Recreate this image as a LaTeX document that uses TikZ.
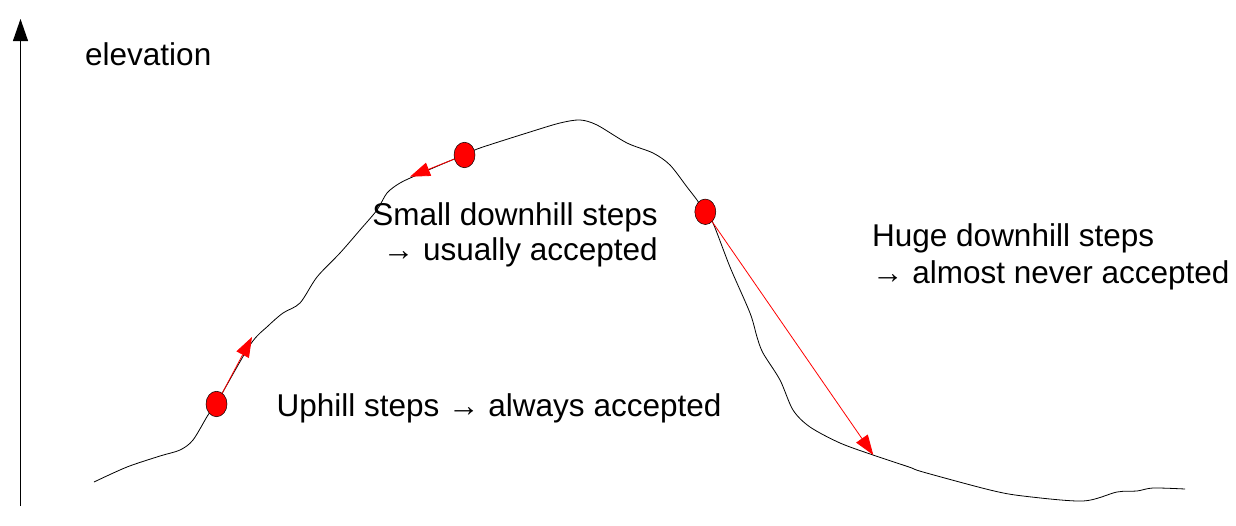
\documentclass[tikz,border=0pt]{standalone}
\usepackage{fontspec}
\setmainfont{Liberation Sans}
\usetikzlibrary{arrows.meta,shapes.geometric}
\begin{document}
\begin{tikzpicture}[x=1pt,y=-1pt,
  lbl/.style={inner sep=0pt,font=\fontsize{31.5}{35.5}\selectfont},
  ball/.style={ellipse,draw=black,line width=0.5pt,fill=red,minimum width=21pt,minimum height=25.5pt,inner sep=0pt},
  stepline/.style={draw=red,line width=0.8pt,-{Triangle[length=20pt,width=14pt]}},
  terrain/.style={draw=black,line width=0.8pt},
  axisline/.style={draw=black,line width=1pt,-{Triangle[length=22pt,width=15pt]}}]
\useasboundingbox (0,0) rectangle (1236,525);
% axis
\coordinate (axb) at (20.5,506);
\coordinate (axt) at (20.5,19);
\draw[axisline] (axb) -- (axt);
\node[lbl,anchor=base west] (elev) at (85,65.7) {elevation};
% terrain
\draw[terrain] plot[smooth,tension=0.5] coordinates {
 (94,482) (127,467) (160,456) (180,450) (193,440) (208,415) (216,404)
 (250,345) (268,326) (283,313) (300,303) (317,277) (340,253) (360,230)
 (377,210) (387,193) (400,183) (417,175) (440,165) (464,155) (480,148)
 (530,132) (560,123) (580,120) (597,125) (627,143) (653,153) (670,165)
 (687,187) (697,200) (705,212) (713,223) (730,267) (750,313) (757,337)
 (763,353) (780,380) (793,410) (810,427) (840,443) (873,455) (909,467)
 (923,472) (990,490) (1023,496) (1083,501) (1117,492) (1137,491)
 (1153,488) (1185,489)};
% balls
\node[ball] (b1) at (216.5,404) {};
\node[ball] (b2) at (464.5,155) {};
\node[ball] (b3) at (705.3,211.8) {};
% step tips
\coordinate (t1) at (252,337);
\coordinate (t2) at (410,176.7);
\coordinate (t3) at (873.3,455);
\draw[stepline] (b1) -- (t1);
\draw[stepline] (b2) -- (t2);
\draw[stepline] (b3) -- (t3);
% labels
\node[lbl,anchor=base west] (up) at (276.5,416.7) {Uphill steps → always accepted};
\node[lbl,font=\fontsize{31.5}{35}\selectfont,anchor=base east,align=right] (small) at (658,260) {Small downhill steps\\→ usually accepted};
\node[lbl,font=\fontsize{31.5}{36.5}\selectfont,anchor=base west,align=left] (huge) at (872,283.3) {Huge downhill steps\\→ almost never accepted};
\end{tikzpicture}
\end{document}
